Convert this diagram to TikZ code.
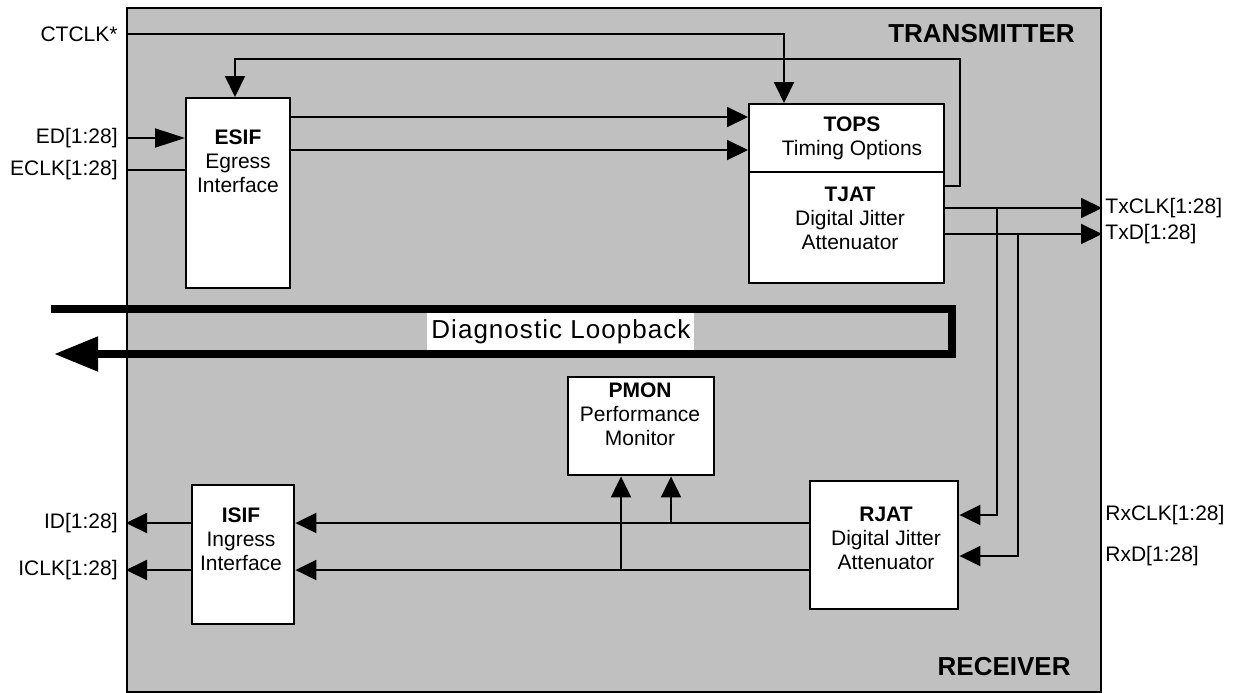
\documentclass[tikz,border=0pt]{standalone}
\usepackage{fontspec}
\setmainfont{Liberation Sans}
\usetikzlibrary{arrows.meta}
\definecolor{boxgray}{RGB}{192,192,192}

\begin{document}
\begin{tikzpicture}[x=0.5pt,y=-0.5pt]
        \tikzstyle{block}=[draw=black,line width=1.2pt,fill=white,inner sep=0pt,anchor=north west]
        \tikzstyle{btext}=[align=center,inner sep=0pt,font=\fontsize{10.5}{12}\selectfont]
        \tikzstyle{pin}=[inner sep=0pt,font=\fontsize{10.5}{12}\selectfont]
        \tikzstyle{title}=[inner sep=0pt,anchor=east,font=\fontsize{13}{15}\selectfont\bfseries]
        \tikzstyle{sig}=[line width=1pt,-{Triangle[length=10.5pt,width=10pt]}]
        \tikzstyle{wire}=[line width=1pt]

        \useasboundingbox (0,0) rectangle (1234,692);
        \node (main)[draw=black,line width=1pt,fill=boxgray,inner sep=0pt,anchor=north west,minimum width=487pt,minimum height=342pt] at (126,7) {};

        \node (esif)[block,minimum width=52pt,minimum height=95pt] at (185,97) {};
        \node (tops)[block,minimum width=97.5pt,minimum height=34pt] at (748,103) {};
        \node (tjat)[block,minimum width=97.5pt,minimum height=55.5pt] at (748,171) {};
        \node (pmon)[block,minimum width=73pt,minimum height=49pt] at (567,376) {};
        \node (rjat)[block,minimum width=74pt,minimum height=64pt] at (809,480) {};
        \node (isif)[block,minimum width=51pt,minimum height=69.5pt] at (191,484) {};

        \node (esift)[btext] at (238,161) {\textbf{ESIF}\\Egress\\Interface};
        \node (topst)[btext] at (852,138) {\textbf{TOPS}\\Timing Options};
        \node (tjatt)[btext] at (850,218) {\textbf{TJAT}\\Digital Jitter\\Attenuator};
        \node (pmont)[btext] at (640,414) {\textbf{PMON}\\Performance\\Monitor};
        \node (rjatt)[btext] at (886,538) {\textbf{RJAT}\\Digital Jitter\\Attenuator};
        \node (isift)[btext] at (241,539) {\textbf{ISIF}\\Ingress\\Interface};

        \node (tx)[title] at (1075,34) {TRANSMITTER};
        \node (rx)[title] at (1071,667) {RECEIVER};

        \node (ctclk)[pin,anchor=east] at (118,34) {CTCLK*};
        \node (ed)[pin,anchor=east] at (118,138) {ED[1:28]};
        \node (eclk)[pin,anchor=east] at (118,170) {ECLK[1:28]};
        \node (id)[pin,anchor=east] at (118,523) {ID[1:28]};
        \node (iclk)[pin,anchor=east] at (118,570) {ICLK[1:28]};
        \node (txclk)[pin,anchor=west] at (1105,208) {TxCLK[1:28]};
        \node (txd)[pin,anchor=west] at (1105,234) {TxD[1:28]};
        \node (rxclk)[pin,anchor=west] at (1105,515) {RxCLK[1:28]};
        \node (rxd)[pin,anchor=west] at (1105,556) {RxD[1:28]};

        \coordinate (fb) at (960,59);
        \coordinate (b1) at (997,0);
        \coordinate (b2) at (1018,0);
        \coordinate (tap1) at ([xshift=27pt]pmon.south west);
        \coordinate (tap2) at ([xshift=52pt]pmon.south west);
        \coordinate (lbin) at (51,309);
        \coordinate (lbr) at (952,309);
        \coordinate (lbout) at (54,354);

        \draw[sig] (main.west |- ctclk) -| ([xshift=18pt]tops.north west);
        \draw[sig] ([yshift=-7.5pt]tjat.north east) -| (fb) -| ([xshift=25pt]esif.north west);
        \draw[line width=1pt,-{Triangle[length=15pt,width=9.5pt]}] (main.west |- ed) -- (esif.west |- ed);
        \draw[wire] (main.west |- eclk) -- (esif.west |- eclk);
        \draw[sig] ([yshift=-10pt]esif.north east) -- ([yshift=-10pt]esif.north east -| tops.west);
        \draw[sig] ([yshift=-26.5pt]esif.north east) -- ([yshift=-26.5pt]esif.north east -| tops.west);

        \draw[sig] (tjat.east |- txclk) -- (main.east |- txclk);
        \draw[sig] (tjat.east |- txd) -- (main.east |- txd);
        \draw[sig] (b1 |- txclk) |- (rjat.east |- rxclk);
        \draw[sig] (b2 |- txd) |- (rjat.east |- rxd);

        \draw[sig] (rjat.west |- id) -- (isif.east |- id);
        \draw[sig] (rjat.west |- iclk) -- (isif.east |- iclk);
        \draw[sig] (tap1 |- iclk) -- (tap1);
        \draw[sig] (tap2 |- id) -- (tap2);
        \draw[sig] (isif.west |- id) -- (main.west |- id);
        \draw[sig] (isif.west |- iclk) -- (main.west |- iclk);

        \draw[line width=4pt,line join=miter,-{Triangle[length=22pt,width=16.5pt]}] (lbin) -- (lbr) -- (lbr |- lbout) -- (lbout);
        \node (diag)[fill=white,anchor=west,inner xsep=2pt,inner ysep=0pt,minimum height=18.5pt,font=\fontsize{13}{15}\selectfont\addfontfeature{LetterSpace=4}] at (427,331.5) {Diagnostic Loopback};
    \end{tikzpicture}
\end{document}
